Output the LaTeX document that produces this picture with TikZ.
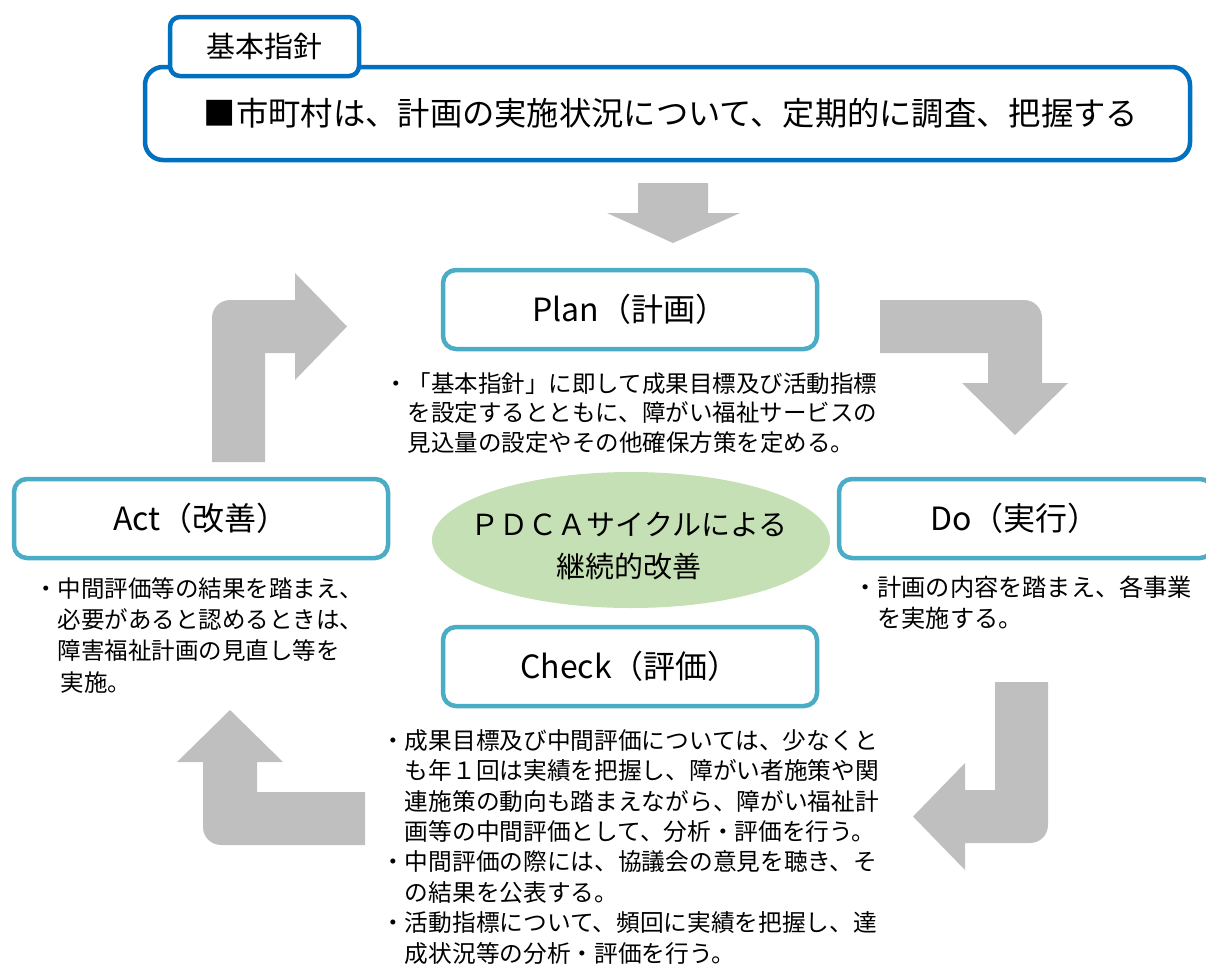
\documentclass[tikz,border=0pt]{standalone}
\usepackage{fontspec}
\setmainfont{Noto Sans CJK JP}
\usetikzlibrary{shapes.geometric}
\definecolor{pdcateal}{HTML}{4BACC6}
\definecolor{topblue}{HTML}{0070C0}
\definecolor{arrowgray}{HTML}{BFBFBF}
\definecolor{ellgreen}{HTML}{C5E0B4}
\begin{document}
\begin{tikzpicture}[x=1pt,y=-1pt,
  pdcabox/.style={draw=pdcateal, line width=4.5pt, rounded corners=13pt, fill=white,
    minimum width=374pt, minimum height=79pt, inner sep=0pt, font=\fontsize{32}{38}\selectfont},
  desc/.style={anchor=north west, align=left, inner sep=0pt},
  blockarrow/.style={fill=arrowgray, draw=none}]
\useasboundingbox (0,0) rectangle (1206,967);

% top policy box
\node[draw=topblue, line width=4.5pt, rounded corners=18pt, fill=white, minimum width=1045pt,
  minimum height=93pt, inner sep=0pt, font=\fontsize{32.3}{38}\selectfont]
  (policy) at (667.5,113.5) {\hspace*{7pt}■市町村は、計画の実施状況について、定期的に調査、把握する};
\node[draw=topblue, line width=4.5pt, rounded corners=10pt, fill=white, minimum width=189pt,
  minimum height=59pt, inner sep=0pt, font=\fontsize{29}{34}\selectfont]
  (tab) at (264.5,46.5) {基本指針};

% down arrow
\fill[blockarrow] (638,183) -- (708,183) -- (708,213) -- (740,213) -- (673,243) -- (607,213) -- (638,213) -- cycle;

% center ellipse
\node[ellipse, fill=ellgreen, minimum width=398pt, minimum height=136pt, inner sep=0pt] (pdca) at (631,540) {};
\node[align=center, inner sep=0pt, font=\fontsize{29}{42}\selectfont] (pdcatext) at (629,546) {ＰＤＣＡサイクルによる\\継続的改善};

% boxes
\node[pdcabox] (plan) at (630,309.5) {Plan（計画）};
\node[pdcabox] (act) at (201,518.5) {Act（改善）};
\node[pdcabox] (do) at (1026,518.5) {Do（実行）\hspace*{22pt}};
\node[pdcabox] (check) at (630,666.5) {Check（評価）};

% bent arrows
\fill[blockarrow] (212,462) -- (212,318) .. controls (212,308) and (220,300) .. (230,300) -- (295,300) -- (295,273) -- (347,326.5) -- (295,380) -- (295,353) -- (265,353) -- (265,462) -- cycle;
\fill[blockarrow] (880,300) -- (1024,300) .. controls (1034,300) and (1042,308) .. (1042,318) -- (1042,383) -- (1068,383) -- (1015,435) -- (962,383) -- (988,383) -- (988,353) -- (880,353) -- cycle;
\fill[blockarrow] (995,682) -- (1048,682) -- (1048,825) .. controls (1048,835) and (1040,843) .. (1030,843) -- (965,843) -- (965,870) -- (913,816.5) -- (965,763) -- (965,790) -- (995,790) -- cycle;
\fill[blockarrow] (365,792) -- (365,845) -- (221,845) .. controls (211,845) and (203,837) .. (203,827) -- (203,762) -- (177,762) -- (230,710) -- (283,762) -- (257,762) -- (257,792) -- cycle;

% descriptions
\node[desc, font=\fontsize{23.5}{29.5}\selectfont] (plandesc) at (384,370)
 {\rule{0pt}{22pt}・「基本指針」に即して成果目標及び活動指標\\
  \hspace*{1em}を設定するとともに、障がい福祉サービスの\\
  \hspace*{1em}見込量の設定やその他確保方策を定める。};
\node[desc, font=\fontsize{23.5}{31.3}\selectfont] (actdesc) at (34,575)
 {\rule{0pt}{22pt}・中間評価等の結果を踏まえ、\\
  \hspace*{1em}必要があると認めるときは、\\
  \hspace*{1em}障害福祉計画の見直し等を\\
  \hspace*{1em}\hspace*{3pt}実施。};
\node[desc, font=\fontsize{24.2}{31.5}\selectfont] (dodesc) at (853,574)
 {\rule{0pt}{22pt}・計画の内容を踏まえ、各事業\\
  \hspace*{1em}を実施する。};
\node[desc, font=\fontsize{23.7}{30.4}\selectfont] (checkdesc) at (381,727)
 {\rule{0pt}{22pt}・成果目標及び中間評価については、少なくと\\
  \hspace*{1em}も年１回は実績を把握し、障がい者施策や関\\
  \hspace*{1em}連施策の動向も踏まえながら、障がい福祉計\\
  \hspace*{1em}画等の中間評価として、分析・評価を行う。\\
  ・中間評価の際には、協議会の意見を聴き、そ\\
  \hspace*{1em}の結果を公表する。\\
  ・活動指標について、頻回に実績を把握し、達\\
  \hspace*{1em}成状況等の分析・評価を行う。};
\end{tikzpicture}
\end{document}
